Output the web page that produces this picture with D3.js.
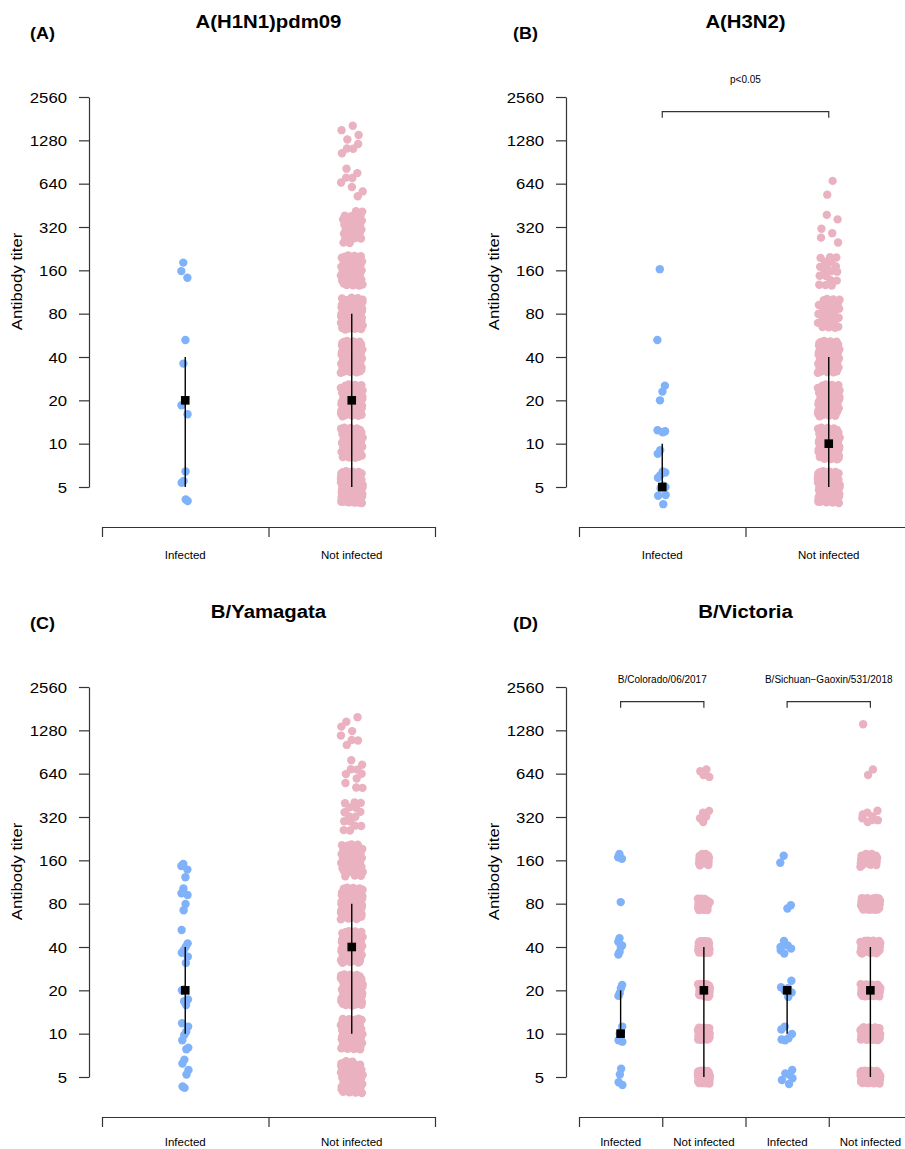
<!DOCTYPE html>
<html>
<head>
<meta charset="utf-8">
<script src="https://cdn.jsdelivr.net/npm/d3@7"></script>
<style>
  body { margin: 0; background: #fff; }
  svg { display: block; }
  text { font-family: "Liberation Sans", Arial, Helvetica, sans-serif; fill: #000; }
</style>
</head>
<body>
<svg id="chart" width="905" height="1149"></svg>
<script>
// titer levels and y axis ticks
const titerLevels = [5, 10, 20, 40, 80, 160, 320, 640, 1280];
const yTickValues = [5, 10, 20, 40, 80, 160, 320, 640, 1280, 2560];
const groupNames = ["Infected", "Not infected"];

// infected: titers (one per dot)
const infH1N1 = [181, 158, 142, 52.5, 36, 18.5, 16, 6.4, 5.5, 5.35, 4.0, 4.1];
const infH3N2 = [163, 52.5, 25.3, 23, 20, 12.4, 12.2, 12.0, 9.0, 8.5, 6.3, 6.4, 6.05, 5.8, 5.0, 5.1, 4.9, 4.35, 4.4, 3.8];
const infYam = [151, 146, 138, 122, 102, 94.5, 92, 79.5, 72, 52.5, 42.4, 40, 38, 36.5, 34.3, 31,
  20.3, 20, 17.3, 15.8, 16.8, 11.8, 11.2, 10.3, 9.8, 9.0, 8.0, 7.8, 6.6, 6.2, 5.6, 5.2, 4.2, 4.3];
const infVicCol = [177, 168, 164, 82, 46, 43.5, 41, 40, 37, 35.5, 21.8, 20.7, 19.1, 18.3,
  11.2, 10.3, 10, 9.0, 8.8, 5.7, 5.2, 4.6, 4.4];
const infVicSich = [172, 154, 78, 74, 44, 40, 39, 41, 36, 38, 23.3, 20.7, 20, 21, 19.3, 18,
  11.2, 10.7, 9.95, 9.3, 9.0, 9.1, 5.6, 5.2, 5.3, 4.77, 4.9, 4.47];

// not infected: number of dots at each titer level (5 ... 1280)
const notH1N1 = [135, 55, 75, 80, 80, 55, 30, 8, 8];
const notH3N2 = [110, 90, 65, 75, 30, 18, 6, 2, 0];
const notYam = [60, 75, 75, 85, 85, 55, 15, 10, 8];
const notVicCol = [70, 50, 40, 40, 25, 15, 5, 4, 0];
const notVicSich = [90, 60, 55, 55, 45, 20, 8, 2, 1];

// [median, lower quartile, upper quartile]
const statH1N1 = [[20, 5, 40], [20, 5, 80]];
const statH3N2 = [[5, 5, 10], [10, 5, 40]];
const statYam = [[20, 10, 40], [40, 10, 80]];
const statVicCol = [[10, 10, 20], [20, 5, 40]];
const statVicSich = [[20, 10, 20], [20, 5, 40]];

const blue = "#80b2fa", pink = "#eab2c0", axisColor = "#333";

const panels = [
  { letter: "(A)", title: "A(H1N1)pdm09", ox: 0, oy: 0, lx: 30, yj: 0.37, cy: 559,
    groups: [
      { name: groupNames[0], color: blue, values: infH1N1, stat: statH1N1[0], xj: 4 },
      { name: groupNames[1], color: pink, counts: notH1N1, stat: statH1N1[1], xj: 11 }],
    brackets: [] },
  { letter: "(B)", title: "A(H3N2)", ox: 477, oy: 0, lx: 513, yj: 0.37, by: 83, cy: 559,
    groups: [
      { name: groupNames[0], color: blue, values: infH3N2, stat: statH3N2[0], xj: 5 },
      { name: groupNames[1], color: pink, counts: notH3N2, stat: statH3N2[1], xj: 11 }],
    brackets: [{ a: 0, b: 1, label: "p<0.05" }] },
  { letter: "(C)", title: "B/Yamagata", ox: 0, oy: 590, lx: 30, yj: 0.37, cy: 556,
    groups: [
      { name: groupNames[0], color: blue, values: infYam, stat: statYam[0], xj: 4 },
      { name: groupNames[1], color: pink, counts: notYam, stat: statYam[1], xj: 11 }],
    brackets: [] },
  { letter: "(D)", title: "B/Victoria", ox: 477, oy: 590, lx: 513, yj: 0.15, by: 93, cy: 556,
    groups: [
      { name: groupNames[0], color: blue, values: infVicCol, stat: statVicCol[0], xj: 2.5 },
      { name: groupNames[1], color: pink, counts: notVicCol, stat: statVicCol[1], xj: 6 },
      { name: groupNames[0], color: blue, values: infVicSich, stat: statVicSich[0], xj: 7 },
      { name: groupNames[1], color: pink, counts: notVicSich, stat: statVicSich[1], xj: 10 }],
    brackets: [{ a: 0, b: 1, label: "B/Colorado/06/2017" }, { a: 2, b: 3, label: "B/Sichuan\u2212Gaoxin/531/2018" }] }
];

const svg = d3.select("#chart");

// evenly spread jitter in [-1, 1]
const frac = v => v - Math.floor(v);
const jit = (k, a) => 2 * frac(0.5 + k * a) - 1;

function drawPanel(p) {
  const g = svg.append("g");
  const n = p.groups.length;
  const y = d3.scaleLog().base(2).domain([5, 2560]).range([487 + p.oy, 97 + p.oy]);
  const x = d3.scaleLinear().domain([0, n]).range([102 + p.ox, 435 + p.ox]);

  // y axis
  const ya = g.append("g")
    .attr("transform", `translate(${89 + p.ox},0)`)
    .call(d3.axisLeft(y).tickValues(yTickValues).tickFormat(d3.format("d")).tickSize(10).tickSizeOuter(0))
    .attr("font-family", null);
  ya.selectAll(".domain, .tick line").attr("stroke", axisColor).attr("stroke-width", 1.2);
  ya.selectAll(".tick text")
    .attr("x", null).attr("dy", "0.36em")
    .attr("font-size", 14.8)
    .attr("transform", "translate(-22,0) scale(1.13,1)");

  g.append("text")
    .attr("transform", `translate(${22 + p.ox},${281.5 + p.oy}) rotate(-90) scale(1.13,1)`)
    .attr("text-anchor", "middle")
    .attr("font-size", 14.8)
    .text("Antibody titer");

  // x axis: ticks between groups, names at group centres
  const xa = g.append("g")
    .attr("transform", `translate(0,${527 + p.oy})`)
    .call(d3.axisBottom(x).tickValues(d3.range(n + 1)).tickFormat("").tickSize(10).tickSizeOuter(0));
  xa.selectAll(".domain, .tick line").attr("stroke", axisColor).attr("stroke-width", 1.2);

  g.selectAll(".cat").data(p.groups).join("text")
    .attr("x", (d, i) => x(i + 0.5))
    .attr("y", p.cy + p.oy)
    .attr("text-anchor", "middle")
    .attr("font-size", 11.5)
    .text(d => d.name);

  // dots
  p.groups.forEach((grp, i) => {
    const cx = x(i + 0.5);
    let pts = [];
    if (grp.values) {
      pts = grp.values.map((v, k) => ({ x: cx + jit(k + 1, 0.7548776662) * grp.xj, y: y(v) }));
    } else {
      let k = 0;
      titerLevels.forEach((lv, j) => {
        for (let c = 0; c < grp.counts[j]; c++) {
          k++;
          pts.push({
            x: cx + jit(k, 0.7548776662) * grp.xj,
            y: y(lv * Math.pow(2, jit(k, 0.5698402910) * p.yj))
          });
        }
      });
    }
    g.append("g").selectAll("circle").data(pts).join("circle")
      .attr("cx", d => d.x).attr("cy", d => d.y).attr("r", 4.2)
      .attr("fill", grp.color);
  });

  // median and interquartile range
  p.groups.forEach((grp, i) => {
    const cx = x(i + 0.5);
    g.append("line")
      .attr("x1", cx).attr("x2", cx)
      .attr("y1", y(grp.stat[1])).attr("y2", y(grp.stat[2]))
      .attr("stroke", "#000").attr("stroke-width", 1.4);
    g.append("rect")
      .attr("x", cx - 4.3).attr("y", y(grp.stat[0]) - 4.3)
      .attr("width", 8.6).attr("height", 8.6)
      .attr("fill", "#000");
  });

  // comparison brackets
  p.brackets.forEach(b => {
    const x1 = x(b.a + 0.5), x2 = x(b.b + 0.5), by = 111.7 + p.oy;
    g.append("path")
      .attr("d", `M${x1},${by + 6}V${by}H${x2}V${by + 6}`)
      .attr("fill", "none").attr("stroke", axisColor).attr("stroke-width", 1.2);
    g.append("text")
      .attr("x", (x1 + x2) / 2).attr("y", p.by + p.oy)
      .attr("text-anchor", "middle")
      .attr("font-size", 10)
      .text(b.label);
  });

  // titles
  g.append("text")
    .attr("transform", `translate(${x(n / 2)},${28 + p.oy}) scale(1.1,1)`)
    .attr("text-anchor", "middle")
    .attr("font-size", 18.5).attr("font-weight", "bold")
    .text(p.title);
  g.append("text")
    .attr("transform", `translate(${p.lx},${38.5 + p.oy}) scale(1.1,1)`)
    .attr("font-size", 16.3).attr("font-weight", "bold")
    .text(p.letter);
}

panels.forEach(drawPanel);
</script>
</body>
</html>
